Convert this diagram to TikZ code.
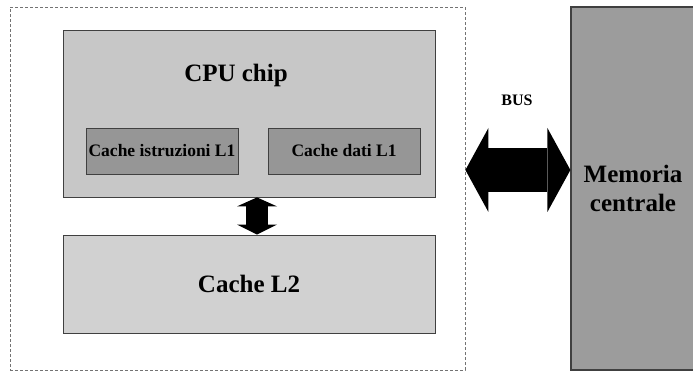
\documentclass[tikz,border=0pt]{standalone}
\usepackage{fontspec}
\setmainfont{Liberation Serif}
\usepackage{tikz}
\usetikzlibrary{arrows.meta}

\begin{document}
\begin{tikzpicture}[x=1pt, y=-1pt,
  box/.style={draw=black!75, line width=.8pt, inner sep=0pt, font=\bfseries},
  bigtxt/.style={font=\bfseries\fontsize{25}{29}\selectfont},
  smalltxt/.style={font=\bfseries\fontsize{17.5}{20}\selectfont}]
\useasboundingbox (0,0) rectangle (693,371);

\node[draw=black!55, dash pattern=on 3pt off 2pt, line width=.8pt,
  minimum width=455pt, minimum height=363pt] (board) at (237.5,188.5) {};

\node[box, fill=black!22, minimum width=372pt, minimum height=167pt] (cpu) at (249,113.5) {};
\node[bigtxt] (cputxt) at (236,75) {CPU chip};
\node[box, smalltxt, fill=black!41, minimum width=152pt, minimum height=46pt] (l1i) at (162,151) {Cache istruzioni L1};
\node[box, smalltxt, fill=black!41, minimum width=152pt, minimum height=46pt] (l1d) at (344,151) {Cache dati L1};

\node[box, bigtxt, fill=black!18, minimum width=372pt, minimum height=98pt] (l2) at (249,284) {Cache L2};

\node[box, bigtxt, fill=black!39, line width=1.2pt, align=center,
  minimum width=124pt, minimum height=363pt] (mem) at (633,188.5) {Memoria\\centrale};

\node[font=\bfseries\fontsize{16}{19}\selectfont] (bus) at (517,100) {BUS};

\draw[line width=22pt, {Triangle[length=9pt,width=40pt,line width=0pt]}-{Triangle[length=10pt,width=40pt,line width=0pt]}]
  ([xshift=8pt]cpu.south) -- ([xshift=8pt]l2.north);
\draw[line width=44pt, {Triangle[length=23pt,width=84pt,line width=0pt]}-{Triangle[length=23pt,width=84pt,line width=0pt]}]
  ([yshift=18.5pt]board.east) -- ([yshift=18.5pt]mem.west);

\end{tikzpicture}
\end{document}
